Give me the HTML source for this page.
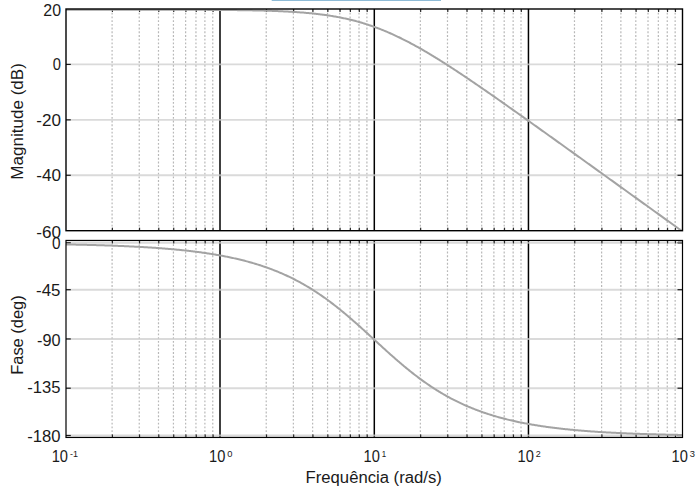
<!DOCTYPE html>
<html><head><meta charset="utf-8"><style>html,body{margin:0;padding:0;background:#fff;width:699px;height:493px;overflow:hidden} svg{display:block}</style></head>
<body><svg width="699" height="493" viewBox="0 0 699 493"><rect x="0" y="0" width="699" height="493" fill="#fff"/><rect x="271.7" y="0" width="169.3" height="1" fill="#8ebbd6"/><line x1="112.10" y1="9.0" x2="112.10" y2="230.7" stroke="#b8b8b8" stroke-width="1.2" stroke-dasharray="1.86 1.86"/><line x1="139.24" y1="9.0" x2="139.24" y2="230.7" stroke="#b8b8b8" stroke-width="1.2" stroke-dasharray="1.86 1.86"/><line x1="158.49" y1="9.0" x2="158.49" y2="230.7" stroke="#b8b8b8" stroke-width="1.2" stroke-dasharray="1.86 1.86"/><line x1="173.43" y1="9.0" x2="173.43" y2="230.7" stroke="#b8b8b8" stroke-width="1.2" stroke-dasharray="1.86 1.86"/><line x1="185.63" y1="9.0" x2="185.63" y2="230.7" stroke="#b8b8b8" stroke-width="1.2" stroke-dasharray="1.86 1.86"/><line x1="195.95" y1="9.0" x2="195.95" y2="230.7" stroke="#b8b8b8" stroke-width="1.2" stroke-dasharray="1.86 1.86"/><line x1="204.89" y1="9.0" x2="204.89" y2="230.7" stroke="#b8b8b8" stroke-width="1.2" stroke-dasharray="1.86 1.86"/><line x1="212.77" y1="9.0" x2="212.77" y2="230.7" stroke="#b8b8b8" stroke-width="1.2" stroke-dasharray="1.86 1.86"/><line x1="266.22" y1="9.0" x2="266.22" y2="230.7" stroke="#b8b8b8" stroke-width="1.2" stroke-dasharray="1.86 1.86"/><line x1="293.36" y1="9.0" x2="293.36" y2="230.7" stroke="#b8b8b8" stroke-width="1.2" stroke-dasharray="1.86 1.86"/><line x1="312.62" y1="9.0" x2="312.62" y2="230.7" stroke="#b8b8b8" stroke-width="1.2" stroke-dasharray="1.86 1.86"/><line x1="327.55" y1="9.0" x2="327.55" y2="230.7" stroke="#b8b8b8" stroke-width="1.2" stroke-dasharray="1.86 1.86"/><line x1="339.76" y1="9.0" x2="339.76" y2="230.7" stroke="#b8b8b8" stroke-width="1.2" stroke-dasharray="1.86 1.86"/><line x1="350.08" y1="9.0" x2="350.08" y2="230.7" stroke="#b8b8b8" stroke-width="1.2" stroke-dasharray="1.86 1.86"/><line x1="359.01" y1="9.0" x2="359.01" y2="230.7" stroke="#b8b8b8" stroke-width="1.2" stroke-dasharray="1.86 1.86"/><line x1="366.90" y1="9.0" x2="366.90" y2="230.7" stroke="#b8b8b8" stroke-width="1.2" stroke-dasharray="1.86 1.86"/><line x1="420.35" y1="9.0" x2="420.35" y2="230.7" stroke="#b8b8b8" stroke-width="1.2" stroke-dasharray="1.86 1.86"/><line x1="447.49" y1="9.0" x2="447.49" y2="230.7" stroke="#b8b8b8" stroke-width="1.2" stroke-dasharray="1.86 1.86"/><line x1="466.74" y1="9.0" x2="466.74" y2="230.7" stroke="#b8b8b8" stroke-width="1.2" stroke-dasharray="1.86 1.86"/><line x1="481.68" y1="9.0" x2="481.68" y2="230.7" stroke="#b8b8b8" stroke-width="1.2" stroke-dasharray="1.86 1.86"/><line x1="493.88" y1="9.0" x2="493.88" y2="230.7" stroke="#b8b8b8" stroke-width="1.2" stroke-dasharray="1.86 1.86"/><line x1="504.20" y1="9.0" x2="504.20" y2="230.7" stroke="#b8b8b8" stroke-width="1.2" stroke-dasharray="1.86 1.86"/><line x1="513.14" y1="9.0" x2="513.14" y2="230.7" stroke="#b8b8b8" stroke-width="1.2" stroke-dasharray="1.86 1.86"/><line x1="521.02" y1="9.0" x2="521.02" y2="230.7" stroke="#b8b8b8" stroke-width="1.2" stroke-dasharray="1.86 1.86"/><line x1="574.47" y1="9.0" x2="574.47" y2="230.7" stroke="#b8b8b8" stroke-width="1.2" stroke-dasharray="1.86 1.86"/><line x1="601.61" y1="9.0" x2="601.61" y2="230.7" stroke="#b8b8b8" stroke-width="1.2" stroke-dasharray="1.86 1.86"/><line x1="620.87" y1="9.0" x2="620.87" y2="230.7" stroke="#b8b8b8" stroke-width="1.2" stroke-dasharray="1.86 1.86"/><line x1="635.80" y1="9.0" x2="635.80" y2="230.7" stroke="#b8b8b8" stroke-width="1.2" stroke-dasharray="1.86 1.86"/><line x1="648.01" y1="9.0" x2="648.01" y2="230.7" stroke="#b8b8b8" stroke-width="1.2" stroke-dasharray="1.86 1.86"/><line x1="658.33" y1="9.0" x2="658.33" y2="230.7" stroke="#b8b8b8" stroke-width="1.2" stroke-dasharray="1.86 1.86"/><line x1="667.26" y1="9.0" x2="667.26" y2="230.7" stroke="#b8b8b8" stroke-width="1.2" stroke-dasharray="1.86 1.86"/><line x1="675.15" y1="9.0" x2="675.15" y2="230.7" stroke="#b8b8b8" stroke-width="1.2" stroke-dasharray="1.86 1.86"/><line x1="220.00" y1="9.0" x2="220.00" y2="230.7" stroke="#000" stroke-width="1.5"/><line x1="374.30" y1="9.0" x2="374.30" y2="230.7" stroke="#000" stroke-width="1.5"/><line x1="528.45" y1="9.0" x2="528.45" y2="230.7" stroke="#000" stroke-width="1.5"/><line x1="66.0" y1="64.42" x2="682.5" y2="64.42" stroke="#cdcdcd" stroke-width="1.9" stroke-opacity="0.75"/><line x1="66.0" y1="119.85" x2="682.5" y2="119.85" stroke="#cdcdcd" stroke-width="1.9" stroke-opacity="0.75"/><line x1="66.0" y1="175.27" x2="682.5" y2="175.27" stroke="#cdcdcd" stroke-width="1.9" stroke-opacity="0.75"/><line x1="66.0" y1="64.42" x2="70.8" y2="64.42" stroke="#1a1a1a" stroke-width="1.2"/><line x1="677.5" y1="64.42" x2="682.5" y2="64.42" stroke="#1a1a1a" stroke-width="1.2"/><line x1="66.0" y1="119.85" x2="70.8" y2="119.85" stroke="#1a1a1a" stroke-width="1.2"/><line x1="677.5" y1="119.85" x2="682.5" y2="119.85" stroke="#1a1a1a" stroke-width="1.2"/><line x1="66.0" y1="175.27" x2="70.8" y2="175.27" stroke="#1a1a1a" stroke-width="1.2"/><line x1="677.5" y1="175.27" x2="682.5" y2="175.27" stroke="#1a1a1a" stroke-width="1.2"/><rect x="111.80" y="9.0" width="1.2" height="3.0" fill="#2a2a2a"/><rect x="111.80" y="227.7" width="1.2" height="3.0" fill="#2a2a2a"/><rect x="138.94" y="9.0" width="1.2" height="3.0" fill="#2a2a2a"/><rect x="138.94" y="227.7" width="1.2" height="3.0" fill="#2a2a2a"/><rect x="158.19" y="9.0" width="1.2" height="3.0" fill="#2a2a2a"/><rect x="158.19" y="227.7" width="1.2" height="3.0" fill="#2a2a2a"/><rect x="173.13" y="9.0" width="1.2" height="3.0" fill="#2a2a2a"/><rect x="173.13" y="227.7" width="1.2" height="3.0" fill="#2a2a2a"/><rect x="185.33" y="9.0" width="1.2" height="3.0" fill="#2a2a2a"/><rect x="185.33" y="227.7" width="1.2" height="3.0" fill="#2a2a2a"/><rect x="195.65" y="9.0" width="1.2" height="3.0" fill="#2a2a2a"/><rect x="195.65" y="227.7" width="1.2" height="3.0" fill="#2a2a2a"/><rect x="204.59" y="9.0" width="1.2" height="3.0" fill="#2a2a2a"/><rect x="204.59" y="227.7" width="1.2" height="3.0" fill="#2a2a2a"/><rect x="212.47" y="9.0" width="1.2" height="3.0" fill="#2a2a2a"/><rect x="212.47" y="227.7" width="1.2" height="3.0" fill="#2a2a2a"/><rect x="265.92" y="9.0" width="1.2" height="3.0" fill="#2a2a2a"/><rect x="265.92" y="227.7" width="1.2" height="3.0" fill="#2a2a2a"/><rect x="293.06" y="9.0" width="1.2" height="3.0" fill="#2a2a2a"/><rect x="293.06" y="227.7" width="1.2" height="3.0" fill="#2a2a2a"/><rect x="312.32" y="9.0" width="1.2" height="3.0" fill="#2a2a2a"/><rect x="312.32" y="227.7" width="1.2" height="3.0" fill="#2a2a2a"/><rect x="327.25" y="9.0" width="1.2" height="3.0" fill="#2a2a2a"/><rect x="327.25" y="227.7" width="1.2" height="3.0" fill="#2a2a2a"/><rect x="339.46" y="9.0" width="1.2" height="3.0" fill="#2a2a2a"/><rect x="339.46" y="227.7" width="1.2" height="3.0" fill="#2a2a2a"/><rect x="349.78" y="9.0" width="1.2" height="3.0" fill="#2a2a2a"/><rect x="349.78" y="227.7" width="1.2" height="3.0" fill="#2a2a2a"/><rect x="358.71" y="9.0" width="1.2" height="3.0" fill="#2a2a2a"/><rect x="358.71" y="227.7" width="1.2" height="3.0" fill="#2a2a2a"/><rect x="366.60" y="9.0" width="1.2" height="3.0" fill="#2a2a2a"/><rect x="366.60" y="227.7" width="1.2" height="3.0" fill="#2a2a2a"/><rect x="420.05" y="9.0" width="1.2" height="3.0" fill="#2a2a2a"/><rect x="420.05" y="227.7" width="1.2" height="3.0" fill="#2a2a2a"/><rect x="447.19" y="9.0" width="1.2" height="3.0" fill="#2a2a2a"/><rect x="447.19" y="227.7" width="1.2" height="3.0" fill="#2a2a2a"/><rect x="466.44" y="9.0" width="1.2" height="3.0" fill="#2a2a2a"/><rect x="466.44" y="227.7" width="1.2" height="3.0" fill="#2a2a2a"/><rect x="481.38" y="9.0" width="1.2" height="3.0" fill="#2a2a2a"/><rect x="481.38" y="227.7" width="1.2" height="3.0" fill="#2a2a2a"/><rect x="493.58" y="9.0" width="1.2" height="3.0" fill="#2a2a2a"/><rect x="493.58" y="227.7" width="1.2" height="3.0" fill="#2a2a2a"/><rect x="503.90" y="9.0" width="1.2" height="3.0" fill="#2a2a2a"/><rect x="503.90" y="227.7" width="1.2" height="3.0" fill="#2a2a2a"/><rect x="512.84" y="9.0" width="1.2" height="3.0" fill="#2a2a2a"/><rect x="512.84" y="227.7" width="1.2" height="3.0" fill="#2a2a2a"/><rect x="520.72" y="9.0" width="1.2" height="3.0" fill="#2a2a2a"/><rect x="520.72" y="227.7" width="1.2" height="3.0" fill="#2a2a2a"/><rect x="574.17" y="9.0" width="1.2" height="3.0" fill="#2a2a2a"/><rect x="574.17" y="227.7" width="1.2" height="3.0" fill="#2a2a2a"/><rect x="601.31" y="9.0" width="1.2" height="3.0" fill="#2a2a2a"/><rect x="601.31" y="227.7" width="1.2" height="3.0" fill="#2a2a2a"/><rect x="620.57" y="9.0" width="1.2" height="3.0" fill="#2a2a2a"/><rect x="620.57" y="227.7" width="1.2" height="3.0" fill="#2a2a2a"/><rect x="635.50" y="9.0" width="1.2" height="3.0" fill="#2a2a2a"/><rect x="635.50" y="227.7" width="1.2" height="3.0" fill="#2a2a2a"/><rect x="647.71" y="9.0" width="1.2" height="3.0" fill="#2a2a2a"/><rect x="647.71" y="227.7" width="1.2" height="3.0" fill="#2a2a2a"/><rect x="658.03" y="9.0" width="1.2" height="3.0" fill="#2a2a2a"/><rect x="658.03" y="227.7" width="1.2" height="3.0" fill="#2a2a2a"/><rect x="666.96" y="9.0" width="1.2" height="3.0" fill="#2a2a2a"/><rect x="666.96" y="227.7" width="1.2" height="3.0" fill="#2a2a2a"/><rect x="674.85" y="9.0" width="1.2" height="3.0" fill="#2a2a2a"/><rect x="674.85" y="227.7" width="1.2" height="3.0" fill="#2a2a2a"/><line x1="112.10" y1="240.45" x2="112.10" y2="437.45" stroke="#b8b8b8" stroke-width="1.2" stroke-dasharray="1.86 1.86"/><line x1="139.24" y1="240.45" x2="139.24" y2="437.45" stroke="#b8b8b8" stroke-width="1.2" stroke-dasharray="1.86 1.86"/><line x1="158.49" y1="240.45" x2="158.49" y2="437.45" stroke="#b8b8b8" stroke-width="1.2" stroke-dasharray="1.86 1.86"/><line x1="173.43" y1="240.45" x2="173.43" y2="437.45" stroke="#b8b8b8" stroke-width="1.2" stroke-dasharray="1.86 1.86"/><line x1="185.63" y1="240.45" x2="185.63" y2="437.45" stroke="#b8b8b8" stroke-width="1.2" stroke-dasharray="1.86 1.86"/><line x1="195.95" y1="240.45" x2="195.95" y2="437.45" stroke="#b8b8b8" stroke-width="1.2" stroke-dasharray="1.86 1.86"/><line x1="204.89" y1="240.45" x2="204.89" y2="437.45" stroke="#b8b8b8" stroke-width="1.2" stroke-dasharray="1.86 1.86"/><line x1="212.77" y1="240.45" x2="212.77" y2="437.45" stroke="#b8b8b8" stroke-width="1.2" stroke-dasharray="1.86 1.86"/><line x1="266.22" y1="240.45" x2="266.22" y2="437.45" stroke="#b8b8b8" stroke-width="1.2" stroke-dasharray="1.86 1.86"/><line x1="293.36" y1="240.45" x2="293.36" y2="437.45" stroke="#b8b8b8" stroke-width="1.2" stroke-dasharray="1.86 1.86"/><line x1="312.62" y1="240.45" x2="312.62" y2="437.45" stroke="#b8b8b8" stroke-width="1.2" stroke-dasharray="1.86 1.86"/><line x1="327.55" y1="240.45" x2="327.55" y2="437.45" stroke="#b8b8b8" stroke-width="1.2" stroke-dasharray="1.86 1.86"/><line x1="339.76" y1="240.45" x2="339.76" y2="437.45" stroke="#b8b8b8" stroke-width="1.2" stroke-dasharray="1.86 1.86"/><line x1="350.08" y1="240.45" x2="350.08" y2="437.45" stroke="#b8b8b8" stroke-width="1.2" stroke-dasharray="1.86 1.86"/><line x1="359.01" y1="240.45" x2="359.01" y2="437.45" stroke="#b8b8b8" stroke-width="1.2" stroke-dasharray="1.86 1.86"/><line x1="366.90" y1="240.45" x2="366.90" y2="437.45" stroke="#b8b8b8" stroke-width="1.2" stroke-dasharray="1.86 1.86"/><line x1="420.35" y1="240.45" x2="420.35" y2="437.45" stroke="#b8b8b8" stroke-width="1.2" stroke-dasharray="1.86 1.86"/><line x1="447.49" y1="240.45" x2="447.49" y2="437.45" stroke="#b8b8b8" stroke-width="1.2" stroke-dasharray="1.86 1.86"/><line x1="466.74" y1="240.45" x2="466.74" y2="437.45" stroke="#b8b8b8" stroke-width="1.2" stroke-dasharray="1.86 1.86"/><line x1="481.68" y1="240.45" x2="481.68" y2="437.45" stroke="#b8b8b8" stroke-width="1.2" stroke-dasharray="1.86 1.86"/><line x1="493.88" y1="240.45" x2="493.88" y2="437.45" stroke="#b8b8b8" stroke-width="1.2" stroke-dasharray="1.86 1.86"/><line x1="504.20" y1="240.45" x2="504.20" y2="437.45" stroke="#b8b8b8" stroke-width="1.2" stroke-dasharray="1.86 1.86"/><line x1="513.14" y1="240.45" x2="513.14" y2="437.45" stroke="#b8b8b8" stroke-width="1.2" stroke-dasharray="1.86 1.86"/><line x1="521.02" y1="240.45" x2="521.02" y2="437.45" stroke="#b8b8b8" stroke-width="1.2" stroke-dasharray="1.86 1.86"/><line x1="574.47" y1="240.45" x2="574.47" y2="437.45" stroke="#b8b8b8" stroke-width="1.2" stroke-dasharray="1.86 1.86"/><line x1="601.61" y1="240.45" x2="601.61" y2="437.45" stroke="#b8b8b8" stroke-width="1.2" stroke-dasharray="1.86 1.86"/><line x1="620.87" y1="240.45" x2="620.87" y2="437.45" stroke="#b8b8b8" stroke-width="1.2" stroke-dasharray="1.86 1.86"/><line x1="635.80" y1="240.45" x2="635.80" y2="437.45" stroke="#b8b8b8" stroke-width="1.2" stroke-dasharray="1.86 1.86"/><line x1="648.01" y1="240.45" x2="648.01" y2="437.45" stroke="#b8b8b8" stroke-width="1.2" stroke-dasharray="1.86 1.86"/><line x1="658.33" y1="240.45" x2="658.33" y2="437.45" stroke="#b8b8b8" stroke-width="1.2" stroke-dasharray="1.86 1.86"/><line x1="667.26" y1="240.45" x2="667.26" y2="437.45" stroke="#b8b8b8" stroke-width="1.2" stroke-dasharray="1.86 1.86"/><line x1="675.15" y1="240.45" x2="675.15" y2="437.45" stroke="#b8b8b8" stroke-width="1.2" stroke-dasharray="1.86 1.86"/><line x1="220.00" y1="240.45" x2="220.00" y2="437.45" stroke="#000" stroke-width="1.5"/><line x1="374.30" y1="240.45" x2="374.30" y2="437.45" stroke="#000" stroke-width="1.5"/><line x1="528.45" y1="240.45" x2="528.45" y2="437.45" stroke="#000" stroke-width="1.5"/><line x1="66.0" y1="242.80" x2="682.5" y2="242.80" stroke="#cdcdcd" stroke-width="1.9" stroke-opacity="0.75"/><line x1="66.0" y1="289.70" x2="682.5" y2="289.70" stroke="#cdcdcd" stroke-width="1.9" stroke-opacity="0.75"/><line x1="66.0" y1="338.95" x2="682.5" y2="338.95" stroke="#cdcdcd" stroke-width="1.9" stroke-opacity="0.75"/><line x1="66.0" y1="388.20" x2="682.5" y2="388.20" stroke="#cdcdcd" stroke-width="1.9" stroke-opacity="0.75"/><line x1="66.0" y1="435.50" x2="682.5" y2="435.50" stroke="#cdcdcd" stroke-width="1.9" stroke-opacity="0.75"/><line x1="66.0" y1="242.80" x2="70.8" y2="242.80" stroke="#1a1a1a" stroke-width="1.2"/><line x1="677.5" y1="242.80" x2="682.5" y2="242.80" stroke="#1a1a1a" stroke-width="1.2"/><line x1="66.0" y1="289.70" x2="70.8" y2="289.70" stroke="#1a1a1a" stroke-width="1.2"/><line x1="677.5" y1="289.70" x2="682.5" y2="289.70" stroke="#1a1a1a" stroke-width="1.2"/><line x1="66.0" y1="338.95" x2="70.8" y2="338.95" stroke="#1a1a1a" stroke-width="1.2"/><line x1="677.5" y1="338.95" x2="682.5" y2="338.95" stroke="#1a1a1a" stroke-width="1.2"/><line x1="66.0" y1="388.20" x2="70.8" y2="388.20" stroke="#1a1a1a" stroke-width="1.2"/><line x1="677.5" y1="388.20" x2="682.5" y2="388.20" stroke="#1a1a1a" stroke-width="1.2"/><line x1="66.0" y1="435.50" x2="70.8" y2="435.50" stroke="#1a1a1a" stroke-width="1.2"/><line x1="677.5" y1="435.50" x2="682.5" y2="435.50" stroke="#1a1a1a" stroke-width="1.2"/><rect x="111.80" y="240.45" width="1.2" height="3.0" fill="#2a2a2a"/><rect x="111.80" y="434.45" width="1.2" height="3.0" fill="#2a2a2a"/><rect x="138.94" y="240.45" width="1.2" height="3.0" fill="#2a2a2a"/><rect x="138.94" y="434.45" width="1.2" height="3.0" fill="#2a2a2a"/><rect x="158.19" y="240.45" width="1.2" height="3.0" fill="#2a2a2a"/><rect x="158.19" y="434.45" width="1.2" height="3.0" fill="#2a2a2a"/><rect x="173.13" y="240.45" width="1.2" height="3.0" fill="#2a2a2a"/><rect x="173.13" y="434.45" width="1.2" height="3.0" fill="#2a2a2a"/><rect x="185.33" y="240.45" width="1.2" height="3.0" fill="#2a2a2a"/><rect x="185.33" y="434.45" width="1.2" height="3.0" fill="#2a2a2a"/><rect x="195.65" y="240.45" width="1.2" height="3.0" fill="#2a2a2a"/><rect x="195.65" y="434.45" width="1.2" height="3.0" fill="#2a2a2a"/><rect x="204.59" y="240.45" width="1.2" height="3.0" fill="#2a2a2a"/><rect x="204.59" y="434.45" width="1.2" height="3.0" fill="#2a2a2a"/><rect x="212.47" y="240.45" width="1.2" height="3.0" fill="#2a2a2a"/><rect x="212.47" y="434.45" width="1.2" height="3.0" fill="#2a2a2a"/><rect x="265.92" y="240.45" width="1.2" height="3.0" fill="#2a2a2a"/><rect x="265.92" y="434.45" width="1.2" height="3.0" fill="#2a2a2a"/><rect x="293.06" y="240.45" width="1.2" height="3.0" fill="#2a2a2a"/><rect x="293.06" y="434.45" width="1.2" height="3.0" fill="#2a2a2a"/><rect x="312.32" y="240.45" width="1.2" height="3.0" fill="#2a2a2a"/><rect x="312.32" y="434.45" width="1.2" height="3.0" fill="#2a2a2a"/><rect x="327.25" y="240.45" width="1.2" height="3.0" fill="#2a2a2a"/><rect x="327.25" y="434.45" width="1.2" height="3.0" fill="#2a2a2a"/><rect x="339.46" y="240.45" width="1.2" height="3.0" fill="#2a2a2a"/><rect x="339.46" y="434.45" width="1.2" height="3.0" fill="#2a2a2a"/><rect x="349.78" y="240.45" width="1.2" height="3.0" fill="#2a2a2a"/><rect x="349.78" y="434.45" width="1.2" height="3.0" fill="#2a2a2a"/><rect x="358.71" y="240.45" width="1.2" height="3.0" fill="#2a2a2a"/><rect x="358.71" y="434.45" width="1.2" height="3.0" fill="#2a2a2a"/><rect x="366.60" y="240.45" width="1.2" height="3.0" fill="#2a2a2a"/><rect x="366.60" y="434.45" width="1.2" height="3.0" fill="#2a2a2a"/><rect x="420.05" y="240.45" width="1.2" height="3.0" fill="#2a2a2a"/><rect x="420.05" y="434.45" width="1.2" height="3.0" fill="#2a2a2a"/><rect x="447.19" y="240.45" width="1.2" height="3.0" fill="#2a2a2a"/><rect x="447.19" y="434.45" width="1.2" height="3.0" fill="#2a2a2a"/><rect x="466.44" y="240.45" width="1.2" height="3.0" fill="#2a2a2a"/><rect x="466.44" y="434.45" width="1.2" height="3.0" fill="#2a2a2a"/><rect x="481.38" y="240.45" width="1.2" height="3.0" fill="#2a2a2a"/><rect x="481.38" y="434.45" width="1.2" height="3.0" fill="#2a2a2a"/><rect x="493.58" y="240.45" width="1.2" height="3.0" fill="#2a2a2a"/><rect x="493.58" y="434.45" width="1.2" height="3.0" fill="#2a2a2a"/><rect x="503.90" y="240.45" width="1.2" height="3.0" fill="#2a2a2a"/><rect x="503.90" y="434.45" width="1.2" height="3.0" fill="#2a2a2a"/><rect x="512.84" y="240.45" width="1.2" height="3.0" fill="#2a2a2a"/><rect x="512.84" y="434.45" width="1.2" height="3.0" fill="#2a2a2a"/><rect x="520.72" y="240.45" width="1.2" height="3.0" fill="#2a2a2a"/><rect x="520.72" y="434.45" width="1.2" height="3.0" fill="#2a2a2a"/><rect x="574.17" y="240.45" width="1.2" height="3.0" fill="#2a2a2a"/><rect x="574.17" y="434.45" width="1.2" height="3.0" fill="#2a2a2a"/><rect x="601.31" y="240.45" width="1.2" height="3.0" fill="#2a2a2a"/><rect x="601.31" y="434.45" width="1.2" height="3.0" fill="#2a2a2a"/><rect x="620.57" y="240.45" width="1.2" height="3.0" fill="#2a2a2a"/><rect x="620.57" y="434.45" width="1.2" height="3.0" fill="#2a2a2a"/><rect x="635.50" y="240.45" width="1.2" height="3.0" fill="#2a2a2a"/><rect x="635.50" y="434.45" width="1.2" height="3.0" fill="#2a2a2a"/><rect x="647.71" y="240.45" width="1.2" height="3.0" fill="#2a2a2a"/><rect x="647.71" y="434.45" width="1.2" height="3.0" fill="#2a2a2a"/><rect x="658.03" y="240.45" width="1.2" height="3.0" fill="#2a2a2a"/><rect x="658.03" y="434.45" width="1.2" height="3.0" fill="#2a2a2a"/><rect x="666.96" y="240.45" width="1.2" height="3.0" fill="#2a2a2a"/><rect x="666.96" y="434.45" width="1.2" height="3.0" fill="#2a2a2a"/><rect x="674.85" y="240.45" width="1.2" height="3.0" fill="#2a2a2a"/><rect x="674.85" y="434.45" width="1.2" height="3.0" fill="#2a2a2a"/><clipPath id="cm"><rect x="66.0" y="9.0" width="616.5" height="221.7"/></clipPath><clipPath id="cp"><rect x="66.0" y="240.45" width="616.5" height="197.0"/></clipPath><path d="M66.00,9.70 L67.03,9.70 L68.05,9.70 L69.08,9.70 L70.11,9.70 L71.14,9.70 L72.17,9.70 L73.19,9.70 L74.22,9.70 L75.25,9.70 L76.28,9.70 L77.30,9.70 L78.33,9.70 L79.36,9.70 L80.39,9.70 L81.41,9.70 L82.44,9.70 L83.47,9.70 L84.49,9.70 L85.52,9.70 L86.55,9.70 L87.58,9.70 L88.61,9.71 L89.63,9.71 L90.66,9.71 L91.69,9.71 L92.72,9.71 L93.74,9.71 L94.77,9.71 L95.80,9.71 L96.82,9.71 L97.85,9.71 L98.88,9.71 L99.91,9.71 L100.94,9.71 L101.96,9.71 L102.99,9.71 L104.02,9.71 L105.05,9.71 L106.07,9.71 L107.10,9.71 L108.13,9.71 L109.16,9.71 L110.18,9.71 L111.21,9.71 L112.24,9.71 L113.26,9.71 L114.29,9.71 L115.32,9.71 L116.35,9.71 L117.37,9.71 L118.40,9.71 L119.43,9.71 L120.46,9.71 L121.48,9.71 L122.51,9.71 L123.54,9.71 L124.57,9.71 L125.59,9.72 L126.62,9.72 L127.65,9.72 L128.68,9.72 L129.70,9.72 L130.73,9.72 L131.76,9.72 L132.79,9.72 L133.81,9.72 L134.84,9.72 L135.87,9.72 L136.90,9.72 L137.93,9.72 L138.95,9.72 L139.98,9.72 L141.01,9.72 L142.04,9.73 L143.06,9.73 L144.09,9.73 L145.12,9.73 L146.14,9.73 L147.17,9.73 L148.20,9.73 L149.23,9.73 L150.25,9.73 L151.28,9.73 L152.31,9.73 L153.34,9.74 L154.37,9.74 L155.39,9.74 L156.42,9.74 L157.45,9.74 L158.47,9.74 L159.50,9.74 L160.53,9.74 L161.56,9.75 L162.59,9.75 L163.61,9.75 L164.64,9.75 L165.67,9.75 L166.69,9.75 L167.72,9.75 L168.75,9.76 L169.78,9.76 L170.81,9.76 L171.83,9.76 L172.86,9.76 L173.89,9.77 L174.91,9.77 L175.94,9.77 L176.97,9.77 L178.00,9.77 L179.03,9.78 L180.05,9.78 L181.08,9.78 L182.11,9.78 L183.13,9.79 L184.16,9.79 L185.19,9.79 L186.22,9.79 L187.25,9.80 L188.27,9.80 L189.30,9.80 L190.33,9.81 L191.36,9.81 L192.38,9.81 L193.41,9.82 L194.44,9.82 L195.47,9.82 L196.49,9.83 L197.52,9.83 L198.55,9.84 L199.58,9.84 L200.60,9.84 L201.63,9.85 L202.66,9.85 L203.69,9.86 L204.71,9.86 L205.74,9.87 L206.77,9.87 L207.80,9.88 L208.82,9.88 L209.85,9.89 L210.88,9.90 L211.91,9.90 L212.93,9.91 L213.96,9.92 L214.99,9.92 L216.02,9.93 L217.04,9.94 L218.07,9.94 L219.10,9.95 L220.12,9.96 L221.15,9.97 L222.18,9.97 L223.21,9.98 L224.23,9.99 L225.26,10.00 L226.29,10.01 L227.32,10.02 L228.34,10.03 L229.37,10.04 L230.40,10.05 L231.43,10.06 L232.46,10.07 L233.48,10.08 L234.51,10.10 L235.54,10.11 L236.56,10.12 L237.59,10.13 L238.62,10.15 L239.65,10.16 L240.67,10.18 L241.70,10.19 L242.73,10.21 L243.76,10.22 L244.78,10.24 L245.81,10.25 L246.84,10.27 L247.87,10.29 L248.90,10.31 L249.92,10.32 L250.95,10.34 L251.98,10.36 L253.00,10.38 L254.03,10.40 L255.06,10.43 L256.09,10.45 L257.12,10.47 L258.14,10.49 L259.17,10.52 L260.20,10.54 L261.23,10.57 L262.25,10.60 L263.28,10.62 L264.31,10.65 L265.33,10.68 L266.36,10.71 L267.39,10.74 L268.42,10.77 L269.45,10.81 L270.47,10.84 L271.50,10.87 L272.53,10.91 L273.56,10.95 L274.58,10.98 L275.61,11.02 L276.64,11.06 L277.66,11.10 L278.69,11.15 L279.72,11.19 L280.75,11.23 L281.77,11.28 L282.80,11.33 L283.83,11.38 L284.86,11.43 L285.88,11.48 L286.91,11.53 L287.94,11.59 L288.97,11.64 L290.00,11.70 L291.02,11.76 L292.05,11.82 L293.08,11.88 L294.11,11.95 L295.13,12.02 L296.16,12.08 L297.19,12.15 L298.22,12.23 L299.24,12.30 L300.27,12.38 L301.30,12.45 L302.33,12.54 L303.35,12.62 L304.38,12.70 L305.41,12.79 L306.44,12.88 L307.46,12.97 L308.49,13.07 L309.52,13.16 L310.54,13.26 L311.57,13.36 L312.60,13.47 L313.63,13.58 L314.65,13.69 L315.68,13.80 L316.71,13.92 L317.74,14.03 L318.76,14.16 L319.79,14.28 L320.82,14.41 L321.85,14.54 L322.88,14.68 L323.90,14.81 L324.93,14.96 L325.96,15.10 L326.99,15.25 L328.01,15.40 L329.04,15.56 L330.07,15.72 L331.09,15.88 L332.12,16.05 L333.15,16.22 L334.18,16.39 L335.20,16.57 L336.23,16.76 L337.26,16.94 L338.29,17.13 L339.31,17.33 L340.34,17.53 L341.37,17.73 L342.40,17.94 L343.43,18.16 L344.45,18.37 L345.48,18.60 L346.51,18.82 L347.54,19.06 L348.56,19.29 L349.59,19.53 L350.62,19.78 L351.64,20.03 L352.67,20.29 L353.70,20.55 L354.73,20.81 L355.75,21.08 L356.78,21.36 L357.81,21.64 L358.84,21.93 L359.87,22.22 L360.89,22.52 L361.92,22.82 L362.95,23.13 L363.98,23.44 L365.00,23.76 L366.03,24.08 L367.06,24.41 L368.08,24.74 L369.11,25.08 L370.14,25.43 L371.17,25.78 L372.19,26.13 L373.22,26.49 L374.25,26.86 L375.28,27.23 L376.31,27.61 L377.33,27.99 L378.36,28.38 L379.39,28.78 L380.42,29.18 L381.44,29.58 L382.47,29.99 L383.50,30.41 L384.53,30.83 L385.55,31.25 L386.58,31.69 L387.61,32.12 L388.63,32.56 L389.66,33.01 L390.69,33.46 L391.72,33.92 L392.75,34.39 L393.77,34.85 L394.80,35.33 L395.83,35.80 L396.85,36.29 L397.88,36.78 L398.91,37.27 L399.94,37.77 L400.96,38.27 L401.99,38.78 L403.02,39.29 L404.05,39.81 L405.08,40.33 L406.10,40.85 L407.13,41.38 L408.16,41.92 L409.19,42.46 L410.21,43.00 L411.24,43.55 L412.27,44.10 L413.30,44.65 L414.32,45.21 L415.35,45.78 L416.38,46.35 L417.40,46.92 L418.43,47.49 L419.46,48.07 L420.49,48.66 L421.51,49.24 L422.54,49.83 L423.57,50.43 L424.60,51.03 L425.62,51.63 L426.65,52.23 L427.68,52.84 L428.71,53.45 L429.73,54.06 L430.76,54.68 L431.79,55.30 L432.82,55.92 L433.85,56.55 L434.87,57.18 L435.90,57.81 L436.93,58.44 L437.96,59.08 L438.98,59.72 L440.01,60.36 L441.04,61.01 L442.06,61.65 L443.09,62.30 L444.12,62.95 L445.15,63.61 L446.18,64.27 L447.20,64.92 L448.23,65.58 L449.26,66.25 L450.28,66.91 L451.31,67.58 L452.34,68.25 L453.37,68.92 L454.39,69.59 L455.42,70.27 L456.45,70.94 L457.48,71.62 L458.51,72.30 L459.53,72.98 L460.56,73.66 L461.59,74.35 L462.62,75.03 L463.64,75.72 L464.67,76.41 L465.70,77.10 L466.73,77.79 L467.75,78.48 L468.78,79.18 L469.81,79.87 L470.83,80.57 L471.86,81.27 L472.89,81.97 L473.92,82.67 L474.94,83.37 L475.97,84.07 L477.00,84.77 L478.03,85.48 L479.06,86.18 L480.08,86.89 L481.11,87.60 L482.14,88.31 L483.16,89.02 L484.19,89.73 L485.22,90.44 L486.25,91.15 L487.28,91.86 L488.30,92.57 L489.33,93.29 L490.36,94.00 L491.38,94.72 L492.41,95.43 L493.44,96.15 L494.47,96.87 L495.50,97.59 L496.52,98.30 L497.55,99.02 L498.58,99.74 L499.61,100.46 L500.63,101.18 L501.66,101.91 L502.69,102.63 L503.71,103.35 L504.74,104.07 L505.77,104.80 L506.80,105.52 L507.82,106.25 L508.85,106.97 L509.88,107.70 L510.91,108.42 L511.94,109.15 L512.96,109.87 L513.99,110.60 L515.02,111.33 L516.05,112.05 L517.07,112.78 L518.10,113.51 L519.13,114.24 L520.15,114.97 L521.18,115.70 L522.21,116.43 L523.24,117.16 L524.26,117.89 L525.29,118.62 L526.32,119.35 L527.35,120.08 L528.38,120.81 L529.40,121.54 L530.43,122.27 L531.46,123.00 L532.49,123.73 L533.51,124.47 L534.54,125.20 L535.57,125.93 L536.60,126.66 L537.62,127.40 L538.65,128.13 L539.68,128.86 L540.70,129.60 L541.73,130.33 L542.76,131.06 L543.79,131.80 L544.81,132.53 L545.84,133.27 L546.87,134.00 L547.90,134.74 L548.92,135.47 L549.95,136.21 L550.98,136.94 L552.01,137.68 L553.04,138.41 L554.06,139.15 L555.09,139.88 L556.12,140.62 L557.14,141.35 L558.17,142.09 L559.20,142.82 L560.23,143.56 L561.25,144.30 L562.28,145.03 L563.31,145.77 L564.34,146.50 L565.37,147.24 L566.39,147.98 L567.42,148.71 L568.45,149.45 L569.47,150.19 L570.50,150.92 L571.53,151.66 L572.56,152.40 L573.59,153.13 L574.61,153.87 L575.64,154.61 L576.67,155.34 L577.69,156.08 L578.72,156.82 L579.75,157.56 L580.78,158.29 L581.80,159.03 L582.83,159.77 L583.86,160.51 L584.89,161.24 L585.92,161.98 L586.94,162.72 L587.97,163.46 L589.00,164.19 L590.02,164.93 L591.05,165.67 L592.08,166.41 L593.11,167.14 L594.13,167.88 L595.16,168.62 L596.19,169.36 L597.22,170.10 L598.25,170.83 L599.27,171.57 L600.30,172.31 L601.33,173.05 L602.36,173.79 L603.38,174.52 L604.41,175.26 L605.44,176.00 L606.47,176.74 L607.49,177.48 L608.52,178.22 L609.55,178.95 L610.57,179.69 L611.60,180.43 L612.63,181.17 L613.66,181.91 L614.69,182.65 L615.71,183.38 L616.74,184.12 L617.77,184.86 L618.79,185.60 L619.82,186.34 L620.85,187.08 L621.88,187.81 L622.90,188.55 L623.93,189.29 L624.96,190.03 L625.99,190.77 L627.01,191.51 L628.04,192.25 L629.07,192.98 L630.10,193.72 L631.12,194.46 L632.15,195.20 L633.18,195.94 L634.21,196.68 L635.24,197.42 L636.26,198.16 L637.29,198.89 L638.32,199.63 L639.35,200.37 L640.37,201.11 L641.40,201.85 L642.43,202.59 L643.46,203.33 L644.48,204.07 L645.51,204.80 L646.54,205.54 L647.57,206.28 L648.59,207.02 L649.62,207.76 L650.65,208.50 L651.67,209.24 L652.70,209.98 L653.73,210.71 L654.76,211.45 L655.78,212.19 L656.81,212.93 L657.84,213.67 L658.87,214.41 L659.89,215.15 L660.92,215.89 L661.95,216.62 L662.98,217.36 L664.00,218.10 L665.03,218.84 L666.06,219.58 L667.09,220.32 L668.12,221.06 L669.14,221.80 L670.17,222.54 L671.20,223.27 L672.23,224.01 L673.25,224.75 L674.28,225.49 L675.31,226.23 L676.34,226.97 L677.36,227.71 L678.39,228.45 L679.42,229.19 L680.45,229.92 L681.47,230.66 L682.50,231.40" fill="none" stroke="#a3a3a3" stroke-width="2" clip-path="url(#cm)"/><path d="M66.00,244.43 L67.03,244.45 L68.05,244.47 L69.08,244.49 L70.11,244.51 L71.14,244.53 L72.17,244.55 L73.19,244.57 L74.22,244.59 L75.25,244.61 L76.28,244.63 L77.30,244.65 L78.33,244.68 L79.36,244.70 L80.39,244.72 L81.41,244.75 L82.44,244.77 L83.47,244.79 L84.49,244.82 L85.52,244.84 L86.55,244.87 L87.58,244.90 L88.61,244.92 L89.63,244.95 L90.66,244.98 L91.69,245.00 L92.72,245.03 L93.74,245.06 L94.77,245.09 L95.80,245.12 L96.82,245.15 L97.85,245.18 L98.88,245.21 L99.91,245.24 L100.94,245.27 L101.96,245.30 L102.99,245.33 L104.02,245.37 L105.05,245.40 L106.07,245.44 L107.10,245.47 L108.13,245.51 L109.16,245.54 L110.18,245.58 L111.21,245.61 L112.24,245.65 L113.26,245.69 L114.29,245.73 L115.32,245.77 L116.35,245.81 L117.37,245.85 L118.40,245.89 L119.43,245.93 L120.46,245.97 L121.48,246.01 L122.51,246.06 L123.54,246.10 L124.57,246.15 L125.59,246.19 L126.62,246.24 L127.65,246.29 L128.68,246.33 L129.70,246.38 L130.73,246.43 L131.76,246.48 L132.79,246.53 L133.81,246.58 L134.84,246.64 L135.87,246.69 L136.90,246.74 L137.93,246.80 L138.95,246.85 L139.98,246.91 L141.01,246.97 L142.04,247.02 L143.06,247.08 L144.09,247.14 L145.12,247.21 L146.14,247.27 L147.17,247.33 L148.20,247.39 L149.23,247.46 L150.25,247.52 L151.28,247.59 L152.31,247.66 L153.34,247.73 L154.37,247.80 L155.39,247.87 L156.42,247.94 L157.45,248.01 L158.47,248.09 L159.50,248.16 L160.53,248.24 L161.56,248.32 L162.59,248.40 L163.61,248.48 L164.64,248.56 L165.67,248.64 L166.69,248.73 L167.72,248.81 L168.75,248.90 L169.78,248.99 L170.81,249.08 L171.83,249.17 L172.86,249.26 L173.89,249.35 L174.91,249.45 L175.94,249.54 L176.97,249.64 L178.00,249.74 L179.03,249.84 L180.05,249.95 L181.08,250.05 L182.11,250.16 L183.13,250.26 L184.16,250.37 L185.19,250.48 L186.22,250.59 L187.25,250.71 L188.27,250.82 L189.30,250.94 L190.33,251.06 L191.36,251.18 L192.38,251.31 L193.41,251.43 L194.44,251.56 L195.47,251.69 L196.49,251.82 L197.52,251.95 L198.55,252.09 L199.58,252.22 L200.60,252.36 L201.63,252.50 L202.66,252.65 L203.69,252.79 L204.71,252.94 L205.74,253.09 L206.77,253.24 L207.80,253.40 L208.82,253.55 L209.85,253.71 L210.88,253.87 L211.91,254.04 L212.93,254.21 L213.96,254.37 L214.99,254.55 L216.02,254.72 L217.04,254.90 L218.07,255.08 L219.10,255.26 L220.12,255.45 L221.15,255.63 L222.18,255.83 L223.21,256.02 L224.23,256.22 L225.26,256.42 L226.29,256.62 L227.32,256.82 L228.34,257.03 L229.37,257.25 L230.40,257.46 L231.43,257.68 L232.46,257.90 L233.48,258.13 L234.51,258.36 L235.54,258.59 L236.56,258.82 L237.59,259.06 L238.62,259.30 L239.65,259.55 L240.67,259.80 L241.70,260.05 L242.73,260.31 L243.76,260.57 L244.78,260.84 L245.81,261.11 L246.84,261.38 L247.87,261.66 L248.90,261.94 L249.92,262.22 L250.95,262.51 L251.98,262.81 L253.00,263.10 L254.03,263.41 L255.06,263.71 L256.09,264.02 L257.12,264.34 L258.14,264.66 L259.17,264.99 L260.20,265.32 L261.23,265.65 L262.25,265.99 L263.28,266.33 L264.31,266.68 L265.33,267.04 L266.36,267.40 L267.39,267.76 L268.42,268.13 L269.45,268.51 L270.47,268.89 L271.50,269.27 L272.53,269.66 L273.56,270.06 L274.58,270.46 L275.61,270.87 L276.64,271.28 L277.66,271.70 L278.69,272.13 L279.72,272.56 L280.75,272.99 L281.77,273.44 L282.80,273.89 L283.83,274.34 L284.86,274.80 L285.88,275.27 L286.91,275.74 L287.94,276.22 L288.97,276.71 L290.00,277.20 L291.02,277.70 L292.05,278.20 L293.08,278.72 L294.11,279.24 L295.13,279.76 L296.16,280.29 L297.19,280.83 L298.22,281.38 L299.24,281.93 L300.27,282.49 L301.30,283.06 L302.33,283.63 L303.35,284.21 L304.38,284.80 L305.41,285.39 L306.44,285.99 L307.46,286.60 L308.49,287.22 L309.52,287.84 L310.54,288.47 L311.57,289.11 L312.60,289.75 L313.63,290.40 L314.65,291.06 L315.68,291.73 L316.71,292.40 L317.74,293.08 L318.76,293.77 L319.79,294.47 L320.82,295.17 L321.85,295.88 L322.88,296.59 L323.90,297.32 L324.93,298.05 L325.96,298.79 L326.99,299.53 L328.01,300.28 L329.04,301.04 L330.07,301.81 L331.09,302.58 L332.12,303.36 L333.15,304.15 L334.18,304.94 L335.20,305.74 L336.23,306.54 L337.26,307.36 L338.29,308.18 L339.31,309.00 L340.34,309.83 L341.37,310.67 L342.40,311.51 L343.43,312.36 L344.45,313.21 L345.48,314.07 L346.51,314.94 L347.54,315.81 L348.56,316.68 L349.59,317.56 L350.62,318.45 L351.64,319.34 L352.67,320.23 L353.70,321.13 L354.73,322.03 L355.75,322.94 L356.78,323.85 L357.81,324.76 L358.84,325.68 L359.87,326.60 L360.89,327.52 L361.92,328.45 L362.95,329.38 L363.98,330.31 L365.00,331.24 L366.03,332.17 L367.06,333.11 L368.08,334.05 L369.11,334.99 L370.14,335.93 L371.17,336.87 L372.19,337.81 L373.22,338.76 L374.25,339.70 L375.28,340.64 L376.31,341.59 L377.33,342.53 L378.36,343.47 L379.39,344.41 L380.42,345.35 L381.44,346.29 L382.47,347.23 L383.50,348.16 L384.53,349.09 L385.55,350.02 L386.58,350.95 L387.61,351.88 L388.63,352.80 L389.66,353.72 L390.69,354.64 L391.72,355.55 L392.75,356.46 L393.77,357.37 L394.80,358.27 L395.83,359.17 L396.85,360.06 L397.88,360.95 L398.91,361.84 L399.94,362.72 L400.96,363.59 L401.99,364.46 L403.02,365.33 L404.05,366.19 L405.08,367.04 L406.10,367.89 L407.13,368.73 L408.16,369.57 L409.19,370.40 L410.21,371.22 L411.24,372.04 L412.27,372.86 L413.30,373.66 L414.32,374.46 L415.35,375.25 L416.38,376.04 L417.40,376.82 L418.43,377.59 L419.46,378.36 L420.49,379.12 L421.51,379.87 L422.54,380.61 L423.57,381.35 L424.60,382.08 L425.62,382.81 L426.65,383.52 L427.68,384.23 L428.71,384.93 L429.73,385.63 L430.76,386.32 L431.79,387.00 L432.82,387.67 L433.85,388.34 L434.87,389.00 L435.90,389.65 L436.93,390.29 L437.96,390.93 L438.98,391.56 L440.01,392.18 L441.04,392.80 L442.06,393.41 L443.09,394.01 L444.12,394.60 L445.15,395.19 L446.18,395.77 L447.20,396.34 L448.23,396.91 L449.26,397.47 L450.28,398.02 L451.31,398.57 L452.34,399.11 L453.37,399.64 L454.39,400.16 L455.42,400.68 L456.45,401.20 L457.48,401.70 L458.51,402.20 L459.53,402.69 L460.56,403.18 L461.59,403.66 L462.62,404.13 L463.64,404.60 L464.67,405.06 L465.70,405.51 L466.73,405.96 L467.75,406.41 L468.78,406.84 L469.81,407.27 L470.83,407.70 L471.86,408.12 L472.89,408.53 L473.92,408.94 L474.94,409.34 L475.97,409.74 L477.00,410.13 L478.03,410.51 L479.06,410.89 L480.08,411.27 L481.11,411.64 L482.14,412.00 L483.16,412.36 L484.19,412.72 L485.22,413.07 L486.25,413.41 L487.28,413.75 L488.30,414.08 L489.33,414.41 L490.36,414.74 L491.38,415.06 L492.41,415.38 L493.44,415.69 L494.47,415.99 L495.50,416.30 L496.52,416.59 L497.55,416.89 L498.58,417.18 L499.61,417.46 L500.63,417.74 L501.66,418.02 L502.69,418.29 L503.71,418.56 L504.74,418.83 L505.77,419.09 L506.80,419.35 L507.82,419.60 L508.85,419.85 L509.88,420.10 L510.91,420.34 L511.94,420.58 L512.96,420.81 L513.99,421.04 L515.02,421.27 L516.05,421.50 L517.07,421.72 L518.10,421.94 L519.13,422.15 L520.15,422.37 L521.18,422.58 L522.21,422.78 L523.24,422.98 L524.26,423.18 L525.29,423.38 L526.32,423.57 L527.35,423.77 L528.38,423.95 L529.40,424.14 L530.43,424.32 L531.46,424.50 L532.49,424.68 L533.51,424.85 L534.54,425.03 L535.57,425.19 L536.60,425.36 L537.62,425.53 L538.65,425.69 L539.68,425.85 L540.70,426.00 L541.73,426.16 L542.76,426.31 L543.79,426.46 L544.81,426.61 L545.84,426.75 L546.87,426.90 L547.90,427.04 L548.92,427.18 L549.95,427.31 L550.98,427.45 L552.01,427.58 L553.04,427.71 L554.06,427.84 L555.09,427.97 L556.12,428.09 L557.14,428.22 L558.17,428.34 L559.20,428.46 L560.23,428.58 L561.25,428.69 L562.28,428.81 L563.31,428.92 L564.34,429.03 L565.37,429.14 L566.39,429.24 L567.42,429.35 L568.45,429.45 L569.47,429.56 L570.50,429.66 L571.53,429.76 L572.56,429.86 L573.59,429.95 L574.61,430.05 L575.64,430.14 L576.67,430.23 L577.69,430.32 L578.72,430.41 L579.75,430.50 L580.78,430.59 L581.80,430.67 L582.83,430.76 L583.86,430.84 L584.89,430.92 L585.92,431.00 L586.94,431.08 L587.97,431.16 L589.00,431.24 L590.02,431.31 L591.05,431.39 L592.08,431.46 L593.11,431.53 L594.13,431.60 L595.16,431.67 L596.19,431.74 L597.22,431.81 L598.25,431.88 L599.27,431.94 L600.30,432.01 L601.33,432.07 L602.36,432.13 L603.38,432.19 L604.41,432.26 L605.44,432.32 L606.47,432.38 L607.49,432.43 L608.52,432.49 L609.55,432.55 L610.57,432.60 L611.60,432.66 L612.63,432.71 L613.66,432.76 L614.69,432.82 L615.71,432.87 L616.74,432.92 L617.77,432.97 L618.79,433.02 L619.82,433.07 L620.85,433.11 L621.88,433.16 L622.90,433.21 L623.93,433.25 L624.96,433.30 L625.99,433.34 L627.01,433.39 L628.04,433.43 L629.07,433.47 L630.10,433.51 L631.12,433.55 L632.15,433.59 L633.18,433.63 L634.21,433.67 L635.24,433.71 L636.26,433.75 L637.29,433.79 L638.32,433.82 L639.35,433.86 L640.37,433.89 L641.40,433.93 L642.43,433.96 L643.46,434.00 L644.48,434.03 L645.51,434.07 L646.54,434.10 L647.57,434.13 L648.59,434.16 L649.62,434.19 L650.65,434.22 L651.67,434.25 L652.70,434.28 L653.73,434.31 L654.76,434.34 L655.78,434.37 L656.81,434.40 L657.84,434.42 L658.87,434.45 L659.89,434.48 L660.92,434.50 L661.95,434.53 L662.98,434.56 L664.00,434.58 L665.03,434.61 L666.06,434.63 L667.09,434.65 L668.12,434.68 L669.14,434.70 L670.17,434.72 L671.20,434.75 L672.23,434.77 L673.25,434.79 L674.28,434.81 L675.31,434.83 L676.34,434.85 L677.36,434.87 L678.39,434.89 L679.42,434.91 L680.45,434.93 L681.47,434.95 L682.50,434.97" fill="none" stroke="#a3a3a3" stroke-width="2" clip-path="url(#cp)"/><rect x="678" y="241.5" width="4.5" height="2" fill="#777"/><rect x="66.0" y="9.0" width="616.5" height="221.7" fill="none" stroke="#000" stroke-width="1.4"/><rect x="66.0" y="240.45" width="616.5" height="197.0" fill="none" stroke="#000" stroke-width="1.2"/><text x="61.0" y="16.2" font-size="16.8" text-anchor="end" font-family="Liberation Sans, sans-serif" fill="#1a1a1a" textLength="17.7" lengthAdjust="spacingAndGlyphs" >20</text><text x="61.0" y="70.4" font-size="17.0" text-anchor="end" font-family="Liberation Sans, sans-serif" fill="#1a1a1a" textLength="8.2" lengthAdjust="spacingAndGlyphs" >0</text><text x="61.0" y="125.7" font-size="17.2" text-anchor="end" font-family="Liberation Sans, sans-serif" fill="#1a1a1a" textLength="24.7" lengthAdjust="spacingAndGlyphs" >-20</text><text x="61.0" y="181.1" font-size="17.2" text-anchor="end" font-family="Liberation Sans, sans-serif" fill="#1a1a1a" textLength="24.8" lengthAdjust="spacingAndGlyphs" >-40</text><text x="61.0" y="237.9" font-size="16.0" text-anchor="end" font-family="Liberation Sans, sans-serif" fill="#1a1a1a" textLength="24.7" lengthAdjust="spacingAndGlyphs" >-60</text><text x="60.5" y="248.6" font-size="17.0" text-anchor="end" font-family="Liberation Sans, sans-serif" fill="#1a1a1a" textLength="8.6" lengthAdjust="spacingAndGlyphs" >0</text><text x="60.5" y="296.2" font-size="17.0" text-anchor="end" font-family="Liberation Sans, sans-serif" fill="#1a1a1a" textLength="24.4" lengthAdjust="spacingAndGlyphs" >-45</text><text x="60.5" y="345.9" font-size="17.2" text-anchor="end" font-family="Liberation Sans, sans-serif" fill="#1a1a1a" textLength="23.5" lengthAdjust="spacingAndGlyphs" >-90</text><text x="60.5" y="393.0" font-size="16.0" text-anchor="end" font-family="Liberation Sans, sans-serif" fill="#1a1a1a" textLength="33.2" lengthAdjust="spacingAndGlyphs" >-135</text><text x="60.5" y="442.2" font-size="16.6" text-anchor="end" font-family="Liberation Sans, sans-serif" fill="#1a1a1a" textLength="33.3" lengthAdjust="spacingAndGlyphs" >-180</text><text x="51.7" y="461.9" font-size="16.0" text-anchor="start" font-family="Liberation Sans, sans-serif" fill="#1a1a1a" textLength="16.3" lengthAdjust="spacingAndGlyphs" >10</text><text x="69.9" y="456.7" font-size="8.6" text-anchor="start" font-family="Liberation Sans, sans-serif" fill="#1a1a1a" textLength="8.0" lengthAdjust="spacingAndGlyphs" >-1</text><text x="209.1" y="461.9" font-size="16.0" text-anchor="start" font-family="Liberation Sans, sans-serif" fill="#1a1a1a" textLength="16.3" lengthAdjust="spacingAndGlyphs" >10</text><text x="227.29999999999998" y="456.7" font-size="8.6" text-anchor="start" font-family="Liberation Sans, sans-serif" fill="#1a1a1a" textLength="5.2" lengthAdjust="spacingAndGlyphs" >0</text><text x="363.5" y="461.9" font-size="16.0" text-anchor="start" font-family="Liberation Sans, sans-serif" fill="#1a1a1a" textLength="16.3" lengthAdjust="spacingAndGlyphs" >10</text><text x="381.7" y="456.7" font-size="8.6" text-anchor="start" font-family="Liberation Sans, sans-serif" fill="#1a1a1a" textLength="4.4" lengthAdjust="spacingAndGlyphs" >1</text><text x="517.6" y="461.9" font-size="16.0" text-anchor="start" font-family="Liberation Sans, sans-serif" fill="#1a1a1a" textLength="16.3" lengthAdjust="spacingAndGlyphs" >10</text><text x="535.8000000000001" y="456.7" font-size="8.6" text-anchor="start" font-family="Liberation Sans, sans-serif" fill="#1a1a1a" textLength="5.0" lengthAdjust="spacingAndGlyphs" >2</text><text x="671.5" y="461.9" font-size="16.0" text-anchor="start" font-family="Liberation Sans, sans-serif" fill="#1a1a1a" textLength="16.3" lengthAdjust="spacingAndGlyphs" >10</text><text x="689.7" y="456.7" font-size="8.6" text-anchor="start" font-family="Liberation Sans, sans-serif" fill="#1a1a1a" textLength="5.2" lengthAdjust="spacingAndGlyphs" >3</text><text x="305.6" y="483.3" font-size="15.6" text-anchor="start" font-family="Liberation Sans, sans-serif" fill="#1a1a1a" textLength="136.2" lengthAdjust="spacingAndGlyphs" >Frequência (rad/s)</text><g transform="translate(22.9,179.7) rotate(-90)"><text x="0" y="0" font-size="15.6" text-anchor="start" font-family="Liberation Sans, sans-serif" fill="#1a1a1a" textLength="116.6" lengthAdjust="spacingAndGlyphs" >Magnitude (dB)</text></g><g transform="translate(22.9,374.8) rotate(-90)"><text x="0" y="0" font-size="15.6" text-anchor="start" font-family="Liberation Sans, sans-serif" fill="#1a1a1a" textLength="79.5" lengthAdjust="spacingAndGlyphs" >Fase (deg)</text></g></svg></body></html>
